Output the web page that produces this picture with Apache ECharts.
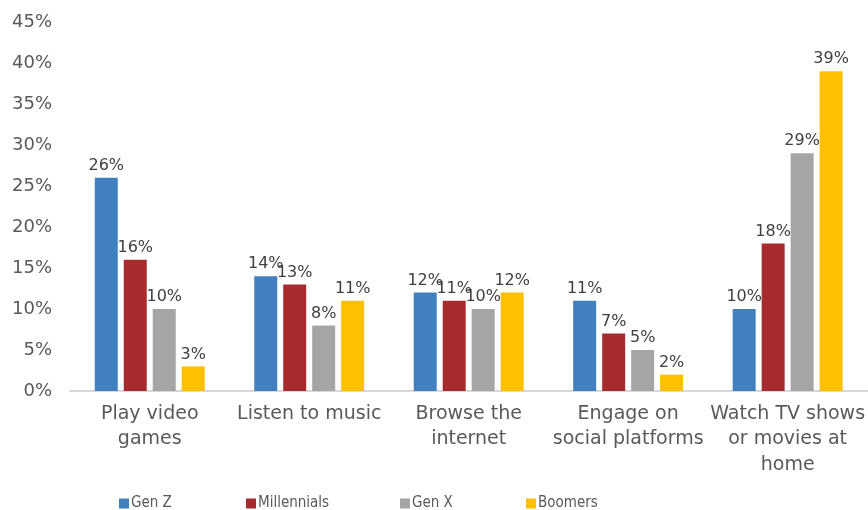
<!DOCTYPE html>
<html><head><meta charset="utf-8">
<script src="https://cdn.jsdelivr.net/npm/echarts@6/dist/echarts.min.js"></script>
<style>html,body{margin:0;padding:0;background:#fff}#c{width:868px;height:510px}</style>
</head><body><div id="c"></div>
<script>
const categories = ["Play video\ngames", "Listen to music", "Browse the\ninternet", "Engage on\nsocial platforms", "Watch TV shows\nor movies at\nhome"];
const genZ = [26, 14, 12, 11, 10];
const millennials = [16, 13, 11, 7, 18];
const genX = [10, 8, 10, 5, 29];
const boomers = [3, 11, 12, 2, 39];
const seriesNames = ["Gen Z", "Millennials", "Gen X", "Boomers"];
const colors = ["#4080BF", "#A62B2F", "#A5A5A5", "#FFC000"];
const font = "'DejaVu Sans', 'Open Sans', sans-serif";
const legendFont = "'DejaVu Sans Condensed', Lato, sans-serif";
const legendLefts = [114, 241, 395, 521];
const chart = echarts.init(document.getElementById('c'));
const mk = (name, data, i) => ({
  name, type: 'bar', data, barWidth: 23, barGap: '26%',
  itemStyle: {color: colors[i]},
  label: {show: true, position: 'top', distance: 4, formatter: p => p.value + '%',
    color: '#404040', fontSize: 16, fontFamily: font}
});
chart.setOption({
  animation: false,
  color: colors,
  grid: {left: 70, right: 0, top: 22, bottom: 119},
  legend: seriesNames.map((n, i) => ({
    left: legendLefts[i], top: 491, itemWidth: 10, itemHeight: 10, icon: 'rect',
    textStyle: {color: '#595959', fontSize: 15, fontFamily: legendFont, padding: [0, 0, 0, -3]},
    data: [n]})),
  xAxis: {type: 'category', data: categories,
    axisLine: {lineStyle: {color: '#D9D9D9', width: 2}}, axisTick: {show: false},
    axisLabel: {color: '#595959', fontSize: 19, fontFamily: font, lineHeight: 25.5, margin: 10, interval: 0}},
  yAxis: {type: 'value', min: 0, max: 45, interval: 5,
    axisLine: {show: false}, axisTick: {show: false}, splitLine: {show: false},
    axisLabel: {formatter: v => v + '%', color: '#595959', fontSize: 18, fontFamily: font, margin: 18}},
  series: [mk(seriesNames[0], genZ, 0), mk(seriesNames[1], millennials, 1), mk(seriesNames[2], genX, 2), mk(seriesNames[3], boomers, 3)]
});
</script></body></html>
